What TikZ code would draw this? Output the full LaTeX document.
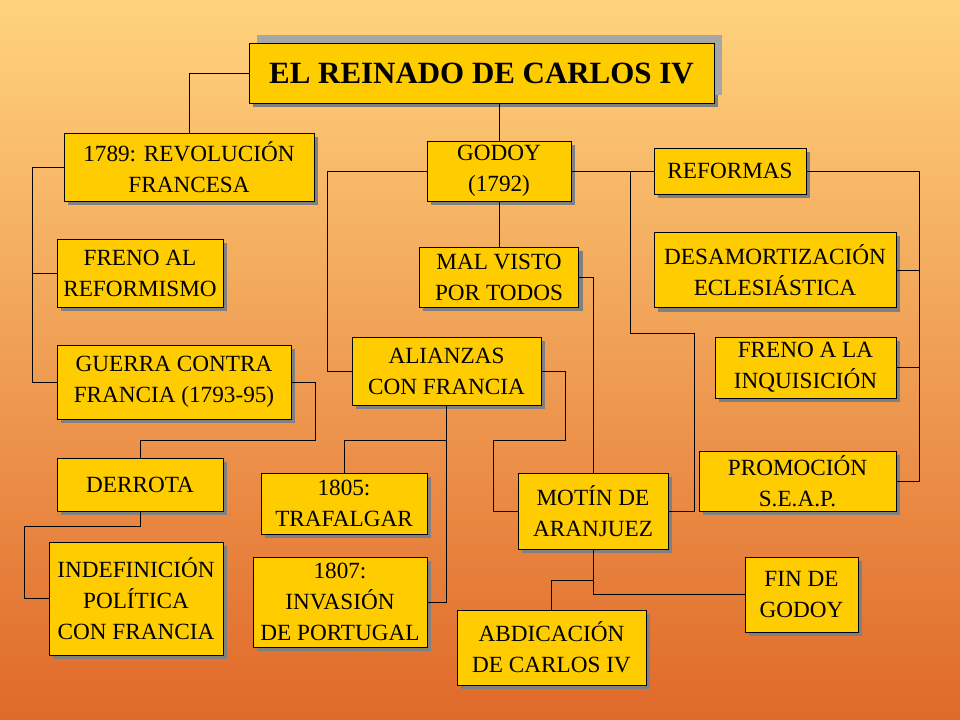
\documentclass[tikz,border=0pt]{standalone}
\usepackage{fontspec}
\setmainfont{Liberation Serif}
\usetikzlibrary{positioning, calc, shadows}

\definecolor{boxyellow}{HTML}{FFCC00}
\definecolor{bgtop}{HTML}{FFD37D}
\definecolor{bgbottom}{HTML}{E0692A}

\tikzset{
    item/.style={draw, thin, fill=boxyellow, align=center, inner sep=1pt,
        font=\fontsize{16.5}{22}\selectfont,
        drop shadow={shadow xshift=0.1cm, shadow yshift=-0.1cm, fill=black!50, opacity=1}},
    titlebox/.style={item, font=\fontsize{22}{26}\selectfont\bfseries,
        drop shadow={shadow xshift=0.2cm, shadow yshift=0.2cm, fill=black!35, opacity=1}},
    link/.style={draw, line width=0.6pt}
}

\begin{document}
\begin{tikzpicture}[x=0.025cm, y=-0.025cm]
    % Background
    \shade[top color=bgtop, bottom color=bgbottom] (0,0) rectangle (960,720);
    \useasboundingbox (0,0) rectangle (960,720);

    % Title
    \node[titlebox, minimum width=11.625cm, minimum height=1.5cm] (title) at (481.5,73) {EL REINADO DE CARLOS IV};

    % Left branch
    \node[item, minimum width=6.25cm, minimum height=1.7cm] (rev) at (189,167) {1789: REVOLUCIÓN\\FRANCESA};
    \node[item, minimum width=4.15cm, minimum height=1.7cm] (frenoal) at (140,273) {FRENO AL\\REFORMISMO};
    \node[item, minimum width=5.85cm, minimum height=1.85cm] (guerra) at (174,382) {GUERRA CONTRA\\FRANCIA (1793-95)};
    \node[item, minimum width=4.15cm, minimum height=1.325cm] (derrota) at (140,484.5) {DERROTA};
    \node[item, minimum width=4.35cm, minimum height=2.825cm] (indef) at (136,598.5) {INDEFINICIÓN\\POLÍTICA\\CON FRANCIA};

    % Middle branch
    \node[item, minimum width=3.6cm, minimum height=1.5cm] (godoy) at (499,171) {GODOY\\(1792)};
    \node[item, minimum width=3.975cm, minimum height=1.5cm] (malvisto) at (499,277) {MAL VISTO\\POR TODOS};
    \node[item, minimum width=4.725cm, minimum height=1.7cm] (alianzas) at (446.5,371) {ALIANZAS\\CON FRANCIA};
    \node[item, minimum width=4.15cm, minimum height=1.525cm] (trafalgar) at (344,503.5) {1805:\\TRAFALGAR};
    \node[item, minimum width=4.35cm, minimum height=2.25cm] (invasion) at (340,602) {1807:\\INVASIÓN\\DE PORTUGAL};
    \node[item, minimum width=3.75cm, minimum height=1.9cm] (motin) at (593,511) {MOTÍN DE\\ARANJUEZ};
    \node[item, minimum width=4.725cm, minimum height=1.875cm] (abdic) at (551.5,647.5) {ABDICACIÓN\\DE CARLOS IV};
    \node[item, minimum width=2.825cm, minimum height=1.875cm] (fin) at (801.5,594.5) {FIN DE\\GODOY};

    % Right branch
    \node[item, minimum width=3.8cm, minimum height=1.15cm] (reformas) at (730,171) {REFORMAS};
    \node[item, minimum width=6.05cm, minimum height=1.875cm] (desamort) at (775,270) {DESAMORTIZACIÓN\\ECLESIÁSTICA};
    \node[item, minimum width=4.525cm, minimum height=1.525cm] (frenoinq) at (805.5,367.5) {FRENO A LA\\INQUISICIÓN};
    \node[item, minimum width=4.925cm, minimum height=1.5cm] (promo) at (797.5,481) {PROMOCIÓN\\S.E.A.P.};

    % Connectors
    \coordinate (split) at (630,171);
    \draw[link] (title.west) -| (rev.north);
    \draw[link] (godoy.north) -- (godoy.north |- title.south);
    \draw[link] (rev.west) -- ++(-31,0) |- (guerra.west);
    \draw[link] (frenoal.west) -- ++(-24,0);
    \draw[link] (guerra.east) -| (315,440) -| (derrota.north);
    \draw[link] (derrota.south) -- ++(0,15) -| ($(indef.west)+(-24,0)$) -- (indef.west);
    \draw[link] (godoy.west) -| ($(alianzas.west)+(-24,0)$) -- (alianzas.west);
    \draw[link] (godoy.south) -- (malvisto.north);
    \draw[link] (godoy.east) -- (reformas.west);
    \draw[link] (split) |- (694,333) |- (motin.east);
    \draw[link] (malvisto.east) -| (motin.north);
    \draw[link] (reformas.east) -| ($(promo.east)+(23,0)$) -- (promo.east);
    \draw[link] (desamort.east) -- ++(23,0);
    \draw[link] (frenoinq.east) -- ++(23,0);
    \draw[link] (alianzas.south) |- (invasion.east);
    \draw[link] (alianzas.south) -- ++(0,35) -| (trafalgar.north);
    \draw[link] (alianzas.east) -| (565,440) -| ($(motin.west)+(-24,0)$) -- (motin.west);
    \draw[link] (motin.south) |- (fin.west);
    \draw[link] (motin.south) -- ++(0,31) -| (abdic.north);
\end{tikzpicture}
\end{document}
